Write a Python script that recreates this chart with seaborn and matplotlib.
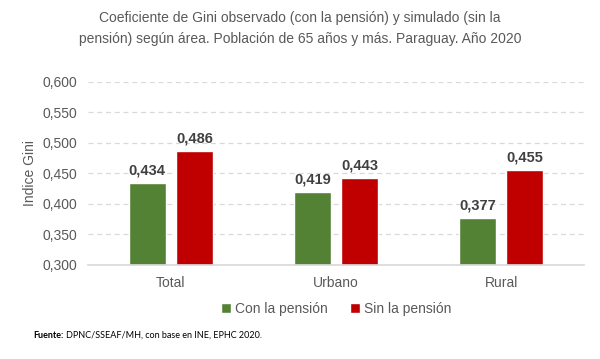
import pandas as pd
import matplotlib.pyplot as plt
import seaborn as sns
from matplotlib.ticker import FuncFormatter

areas = ["Total", "Urbano", "Rural"]
con_pension = [0.434, 0.419, 0.377]
sin_pension = [0.486, 0.443, 0.455]
series = ["Con la pensión", "Sin la pensión"]
colors = ["#548235", "#C00000"]

df = pd.DataFrame({
    "area": areas * 2,
    "serie": [series[0]] * 3 + [series[1]] * 3,
    "gini": con_pension + sin_pension,
})

sns.set_theme(style="white")
plt.rcParams["font.family"] = ["Liberation Sans", "DejaVu Sans"]

fig = plt.figure(figsize=(6, 3.59), dpi=100)
ax = fig.add_axes([0.147, 0.262, 0.826, 0.51])

sns.barplot(data=df, x="area", y="gini", hue="serie", palette=colors,
            width=0.57, gap=0.21, ax=ax, saturation=1)

ax.set_ylim(0.3, 0.6)
ax.set_yticks([0.30, 0.35, 0.40, 0.45, 0.50, 0.55, 0.60])
ax.yaxis.set_major_formatter(FuncFormatter(lambda v, p: f"{v:.3f}".replace(".", ",")))
ax.grid(axis="y", color="#d9d9d9", linestyle=(0, (4, 3)), linewidth=0.9)
ax.set_axisbelow(True)
for s in ["top", "right", "left"]:
    ax.spines[s].set_visible(False)
ax.spines["bottom"].set_color("#d9d9d9")
ax.tick_params(axis="both", length=0, labelsize=10, colors="#595959", pad=8)
ax.set_xlabel("")
ax.set_ylabel("Indice Gini", fontsize=10, color="#595959", labelpad=4)

for cont in ax.containers:
    ax.bar_label(cont, labels=[f"{v:.3f}".replace(".", ",") for v in cont.datavalues],
                 padding=4, fontsize=10.5, fontweight="bold", color="#404040")

ax.legend(loc="upper center", bbox_to_anchor=(0.5, -0.135), ncol=2, frameon=False,
          fontsize=10, handlelength=0.7, handleheight=0.7, handletextpad=0.3,
          columnspacing=1.6, labelcolor="#595959")

fig.text(0.5, 0.968, "Coeficiente de Gini observado (con la pensión) y simulado (sin la\n"
         "pensión) según área. Población de 65 años y más. Paraguay. Año 2020",
         ha="center", va="top", fontsize=10, color="#595959", linespacing=1.55)

foot = fig.text(0.055, 0.058, "Fuente:", fontsize=6.5, fontweight="bold", color="#000000",
                family=["Lato", "DejaVu Sans"], va="baseline")
fig.canvas.draw()
bb = foot.get_window_extent()
fig.text(bb.x1 / fig.bbox.width + 0.004, 0.058, "DPNC/SSEAF/MH, con base en INE, EPHC 2020.",
         fontsize=6.5, color="#000000", family=["Lato", "DejaVu Sans"], va="baseline")

fig.savefig("out.png", dpi=100)
